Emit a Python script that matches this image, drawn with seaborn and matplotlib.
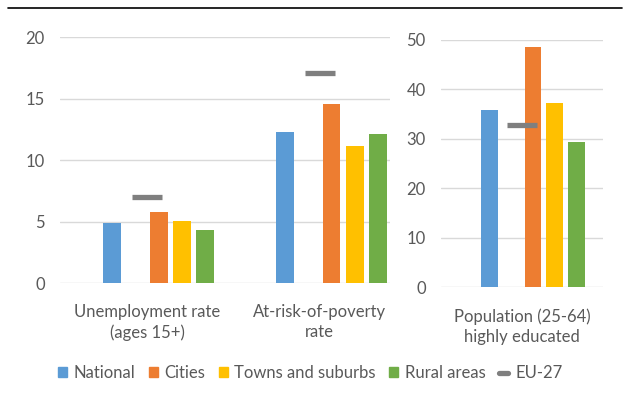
import pandas as pd
import matplotlib.pyplot as plt
import seaborn as sns
from matplotlib.patches import Patch
from matplotlib.lines import Line2D

# data
areas = ["National", "Cities", "Towns and suburbs", "Rural areas"]
area_colors = ["#5b9bd5", "#ed7d31", "#ffc000", "#70ad47"]

left_cats = ["Unemployment rate\n(ages 15+)", "At-risk-of-poverty\nrate"]
national_l = [4.9, 12.3]
cities_l = [5.8, 14.6]
towns_l = [5.1, 11.2]
rural_l = [4.3, 12.1]
eu27_l = [7.0, 17.1]

right_cats = ["Population (25-64)\nhighly educated"]
national_r = [35.8]
cities_r = [48.5]
towns_r = [37.2]
rural_r = [29.4]
eu27_r = [32.8]

sns.set_style("white")
plt.rcParams['font.family'] = ['Lato', 'DejaVu Sans']
txt = "#595959"
grid_c = "#d9d9d9"
eu_c = "#7f7f7f"

# empty slots in the Excel-style cluster (left edge and the EU-27 gap)
hue_order = [" ", "National", "  ", "Cities", "Towns and suburbs", "Rural areas"]
pal = dict(zip(areas, area_colors))
pal[" "] = "white"
pal["  "] = "white"


def long_df(cats, series):
    rows = []
    for name, vals in zip(areas, series):
        for c, v in zip(cats, vals):
            rows.append({"indicator": c, "area": name, "value": v})
    return pd.DataFrame(rows)


df_l = long_df(left_cats, [national_l, cities_l, towns_l, rural_l])
df_r = long_df(right_cats, [national_r, cities_r, towns_r, rural_r])

fig = plt.figure(figsize=(6.3, 4.01), dpi=100)
ax1 = fig.add_axes([60/630, 1-283.3/401, 330/630, 246/401])
ax2 = fig.add_axes([441/630, 1-287.3/401, 162/630, 247.3/401])


def panel(ax, df, cats, eu, ymax, step, xlim):
    sns.barplot(data=df, x="indicator", y="value", hue="area", order=cats,
                hue_order=hue_order, palette=pal, width=0.81, gap=0.23,
                saturation=1, legend=False, ax=ax, linewidth=0)
    sns.pointplot(x=cats, y=eu, order=cats, color=eu_c, markers="_",
                  linestyle="none", markersize=21, markeredgewidth=3.8,
                  errorbar=None, ax=ax)
    ax.set_xlim(*xlim)
    ax.set_ylim(0, ymax)
    ax.set_yticks(range(0, ymax + 1, step))
    ax.grid(axis="y", color=grid_c, lw=1)
    ax.set_axisbelow(True)
    sns.despine(ax=ax, left=True, bottom=True)
    ax.tick_params(length=0, colors=txt, labelsize=12)
    ax.tick_params(axis="y", pad=11)
    ax.tick_params(axis="x", pad=15)
    for lab in ax.get_xticklabels():
        lab.set_linespacing(1.3)
    ax.set_xlabel("")
    ax.set_ylabel("")


panel(ax1, df_l, left_cats, eu27_l, 20, 5, (-0.503, 1.406))
panel(ax2, df_r, right_cats, eu27_r, 50, 10, (-0.5, 0.5))

handles = [Patch(color=c, label=a) for a, c in zip(areas, area_colors)]
handles.append(Line2D([], [], color=eu_c, lw=3.8, label="EU-27"))
fig.legend(handles=handles, loc="center", bbox_to_anchor=(0.492, 1-373/401),
           ncol=5, frameon=False, fontsize=12, labelcolor=txt,
           handlelength=0.55, handleheight=0.55, handletextpad=0.4,
           columnspacing=0.8)

fig.add_artist(Line2D([0.013, 0.987], [0.98, 0.98], color="black", lw=1.2))

fig.savefig("out.png", dpi=100)
